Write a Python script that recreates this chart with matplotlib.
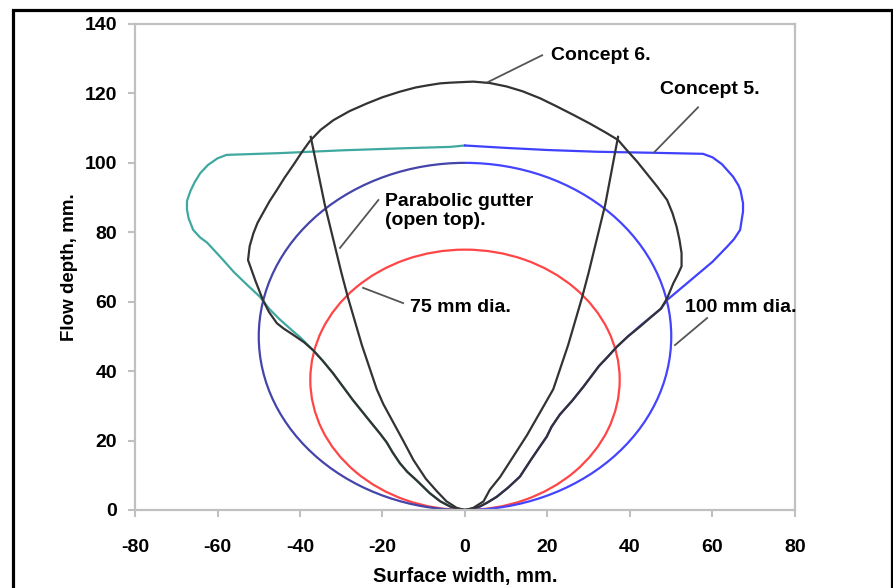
import matplotlib
matplotlib.use("Agg")
import matplotlib.pyplot as plt
from matplotlib.patches import Arc, Rectangle

plt.rcParams['font.family'] = ['Liberation Sans', 'DejaVu Sans']
plt.rcParams['font.weight'] = 'bold'
plt.rcParams['axes.unicode_minus'] = False

# pipe diameters (mm), circles sit on the origin
dia_small = 75
dia_large = 100

# parabolic gutter (open top)
gutter_x = [-37.4, -34, -30, -28.4, -25, -21.4, -19.8, -15, -12.5, -9.5, -6.9, -4.5, -2, 0,
            2, 4.5, 6, 8.5, 11.7, 15, 19, 21.4, 25, 28.4, 30, 34, 37.1]
gutter_y = [107.5, 88, 68.5, 61.3, 47.5, 34.8, 30.5, 20, 14.4, 9, 5.5, 2.5, 0.6, 0,
            0.6, 2.5, 5.8, 9.5, 15.4, 21.5, 29.8, 34.8, 47.5, 61.3, 68.5, 88, 107.5]

# concept 5, left half (teal) and right half (blue), from top centre down to origin
c5_left_x = [0, -3.6, -15, -30, -45, -57.8, -60, -62.3, -64.2, -65.5, -66.6, -67.4, -67.4,
             -67, -65.9, -64.2, -62.5, -59, -56, -52.5, -49.7, -47.5, -45, -41.6, -40,
             -36.8, -34.5, -32, -27.2, -23, -20.6, -19, -17.5, -15.8, -14, -11.7, -8.5,
             -6, -3.6, -2, 0]
c5_left_y = [105, 104.6, 104.2, 103.6, 102.8, 102.3, 101.3, 99.4, 97, 94.5, 91.8, 89, 86.5,
             84, 80.7, 78.5, 77, 72.5, 68.5, 64.5, 61.4, 58, 55, 51.4, 49.8,
             46, 43, 39.4, 31.7, 25.5, 22, 19.5, 16.5, 13.5, 11, 8.5, 4.8,
             2.5, 1, 0.4, 0]
c5_right_x = [0, 10, 20, 32, 45.6, 57.7, 60, 62.3, 65, 66.3, 66.8, 67.4, 67.4, 67.2, 66.7,
              65.2, 63.5, 60, 56, 52.5, 49, 47.5, 46, 42.4, 39.5, 36.8, 34.5, 32.5, 28.7, 26,
              23, 21, 19.8, 18, 16, 13.3, 10.5, 7.7, 5.5, 3.6, 1.5, 0]
c5_right_y = [105, 104.3, 103.7, 103.2, 102.9, 102.6, 101.6, 99.6, 96, 93.5, 92, 88.4, 86,
              84.5, 80.7, 78, 75.8, 71.5, 67.5, 64, 60.5, 58, 56.5, 53, 50, 47, 44, 41.5,
              35.5, 31.5, 27.5, 24, 21.1, 18, 14.5, 9.6, 6.5, 3.8, 2.2, 1, 0.3, 0]

# concept 6, closed outline starting at the origin going round the left side
c6_x = [0, -2, -3.6, -6, -8.5, -11.7, -14, -15.8, -17.5, -19, -20.6, -23, -27.2, -32, -34.5,
        -36.8, -39, -41.7, -44, -45.6, -47.5, -49, -50.8, -52.6, -52.2, -51.3, -50.3, -49,
        -47.4, -45.6, -43.7, -41.6, -39.6, -37.6, -35, -31.9, -28, -23.8, -20, -15.8, -12,
        -9.2, -6, -3.6, 0, 2, 6, 10.1, 14, 18.2, 22, 26.3, 30.3, 34.3, 37.1, 39.2, 41.7, 44,
        46.5, 49, 50.3, 51.3, 52, 52.5, 52.5, 51.5, 50.5, 49, 47.5, 45.5, 42.4, 39.5, 36.8,
        34.5, 32.5, 28.7, 26, 23, 21, 19.8, 18, 16, 13.3, 10.5, 7.7, 5.5, 3.6, 1.5, 0]
c6_y = [0, 0.4, 1, 2.5, 4.8, 8.5, 11, 13.5, 16.5, 19.5, 22, 25.5, 31.7, 39.4, 43,
        46, 48.3, 50.5, 52.3, 53.8, 57, 60.5, 66, 72, 76, 79.7, 82.7, 85.5,
        88.9, 92.2, 95.8, 99.4, 103, 106.3, 109.5, 112.3, 114.9, 117.1, 118.9, 120.5, 121.7,
        122.3, 122.9, 123.1, 123.3, 123.4, 123, 122, 120.6, 118.6, 116.4, 113.8, 111.3, 108.6,
        106.6, 103.7, 100.4, 97, 93.3, 89.3, 85.5, 81.6, 77.8, 74, 70.2, 67.6, 65.3, 61, 58,
        56, 52.8, 50, 47, 44, 41.5, 35.5, 31.5, 27.5, 24, 21.1, 18, 14.5, 9.6, 6.5, 3.8,
        2.2, 1, 0.3, 0]

# annotations: text, text position, leader line start, leader line end
notes = [
    ("Concept 6.", (20.8, 131), (18.7, 131), (5.6, 123.3)),
    ("Concept 5.", (47.3, 121), (56.5, 116), (46, 103.2)),
    ("Parabolic gutter\n(open top).", (-19.4, 86), (-21, 89.3), (-30.3, 75.5)),
    ("75 mm dia.", (-13.3, 58.2), (-15, 59.6), (-24.7, 64)),
    ("100 mm dia.", (53.3, 58.2), (58.7, 55.3), (50.9, 47.5)),
]

fig = plt.figure(figsize=(8.93, 5.88), dpi=100)
ax = fig.add_axes([135 / 893, 1 - 510 / 588, 660 / 893, 486 / 588])

# outer black frame around the whole picture
fig.patches.append(Rectangle((13 / 893, -0.05), 879 / 893, 1.033,
                             transform=fig.transFigure, fill=False,
                             edgecolor='black', linewidth=2.3, clip_on=False))

lw = 1.6
r = dia_small / 2
ax.add_patch(Arc((0, r), dia_small, dia_small, theta1=0, theta2=360,
                 color='#ff4545', linewidth=lw))
R = dia_large / 2
ax.add_patch(Arc((0, R), dia_large, dia_large, theta1=90, theta2=270,
                 color='#4444aa', linewidth=lw))
ax.add_patch(Arc((0, R), dia_large, dia_large, theta1=-90, theta2=90,
                 color='#4444ff', linewidth=lw))

ax.plot(c5_left_x, c5_left_y, color='#3fa8a0', linewidth=lw)
ax.plot(c5_right_x, c5_right_y, color='#4040ff', linewidth=lw)
ax.plot(gutter_x, gutter_y, color='#333333', linewidth=lw)
ax.plot(c6_x, c6_y, color='#333333', linewidth=lw)

for label, txt_pos, l0, l1 in notes:
    ax.plot([l0[0], l1[0]], [l0[1], l1[1]], color='#555555', linewidth=1.3)
    ax.text(txt_pos[0], txt_pos[1], label, fontsize=14, fontweight='bold',
            ha='left', va='center', linespacing=1.15)

ax.set_xlim(-80, 80)
ax.set_ylim(0, 140)
ax.set_xticks(range(-80, 81, 20))
ax.set_yticks(range(0, 141, 20))

for s in ax.spines.values():
    s.set_color('#c0c0c0')
    s.set_linewidth(1.6)
ax.tick_params(axis='both', colors='#c0c0c0', length=5, width=1.5, labelsize=14,
               labelcolor='black')
ax.tick_params(axis='x', pad=16)
ax.tick_params(axis='y', pad=8)
for t in ax.get_xticklabels() + ax.get_yticklabels():
    t.set_fontweight('bold')

ax.set_xlabel("Surface width, mm.", fontsize=14.5, fontweight='bold')
ax.set_ylabel("Flow depth, mm.", fontsize=13.5, fontweight='bold')
ax.xaxis.set_label_coords(0.5, -0.117)
ax.yaxis.set_label_coords(-0.087, 0.5)

fig.savefig("out.png", dpi=100)
